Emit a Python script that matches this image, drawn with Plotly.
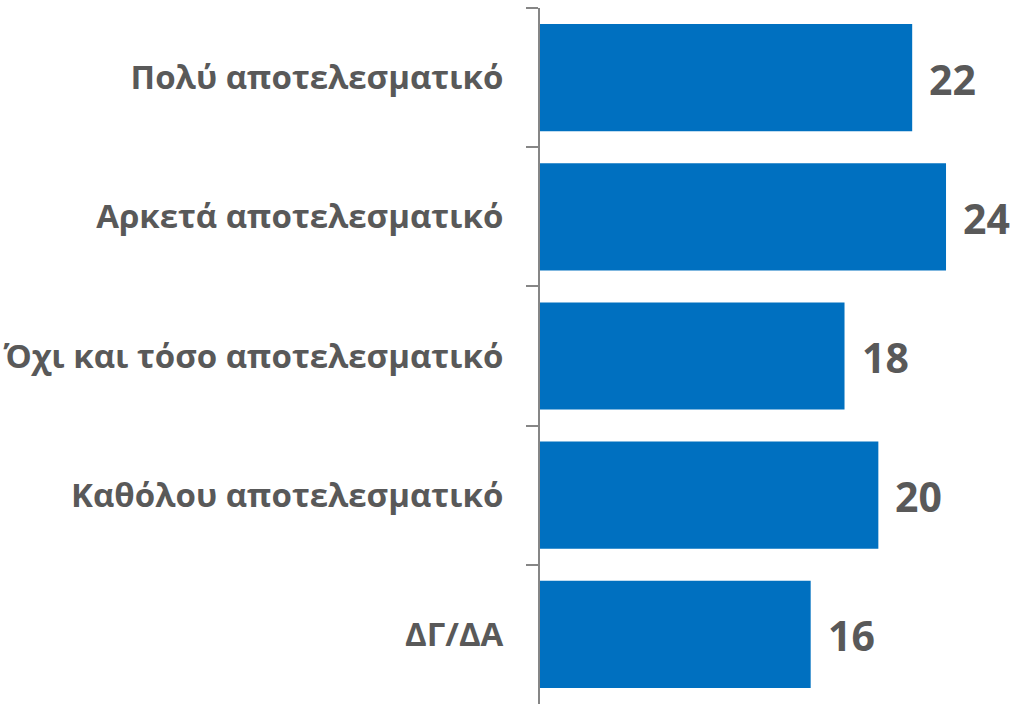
import plotly.graph_objects as go

categories = ["Πολύ αποτελεσματικό", "Αρκετά αποτελεσματικό", "Όχι και τόσο αποτελεσματικό",
              "Καθόλου αποτελεσματικό", "ΔΓ/ΔΑ"]
values = [22, 24, 18, 20, 16]

fig = go.Figure(go.Bar(
    x=values, y=categories, orientation="h",
    marker=dict(color="#0070C0", line=dict(width=0)),
    hoverinfo="skip",
))

for c, v in zip(categories, values):
    fig.add_annotation(x=v, y=c, text=f"<b>{v}</b>", showarrow=False,
                       xanchor="left", yanchor="middle", xshift=15, yshift=-1,
                       font=dict(family="Open Sans", size=41, color="#595959"))

fig.update_layout(
    width=1012, height=704,
    margin=dict(l=540, r=0, t=8, b=0),
    plot_bgcolor="white", paper_bgcolor="white",
    bargap=0.23, showlegend=False,
    xaxis=dict(range=[0, 27.9], visible=False),
    yaxis=dict(autorange="reversed", type="category",
               showline=True, linecolor="#868686", linewidth=2,
               ticks="outside", ticklen=12, tickcolor="#868686", tickwidth=2,
               tickson="boundaries", ticklabelstandoff=28,
               tickfont=dict(family="Open Sans", size=33, color="#595959", weight="bold"),
               showgrid=False),
)
fig.write_html("out.html", config={"displayModeBar": False},
               post_script="document.body.style.margin='0px';document.body.style.overflow='hidden';")
